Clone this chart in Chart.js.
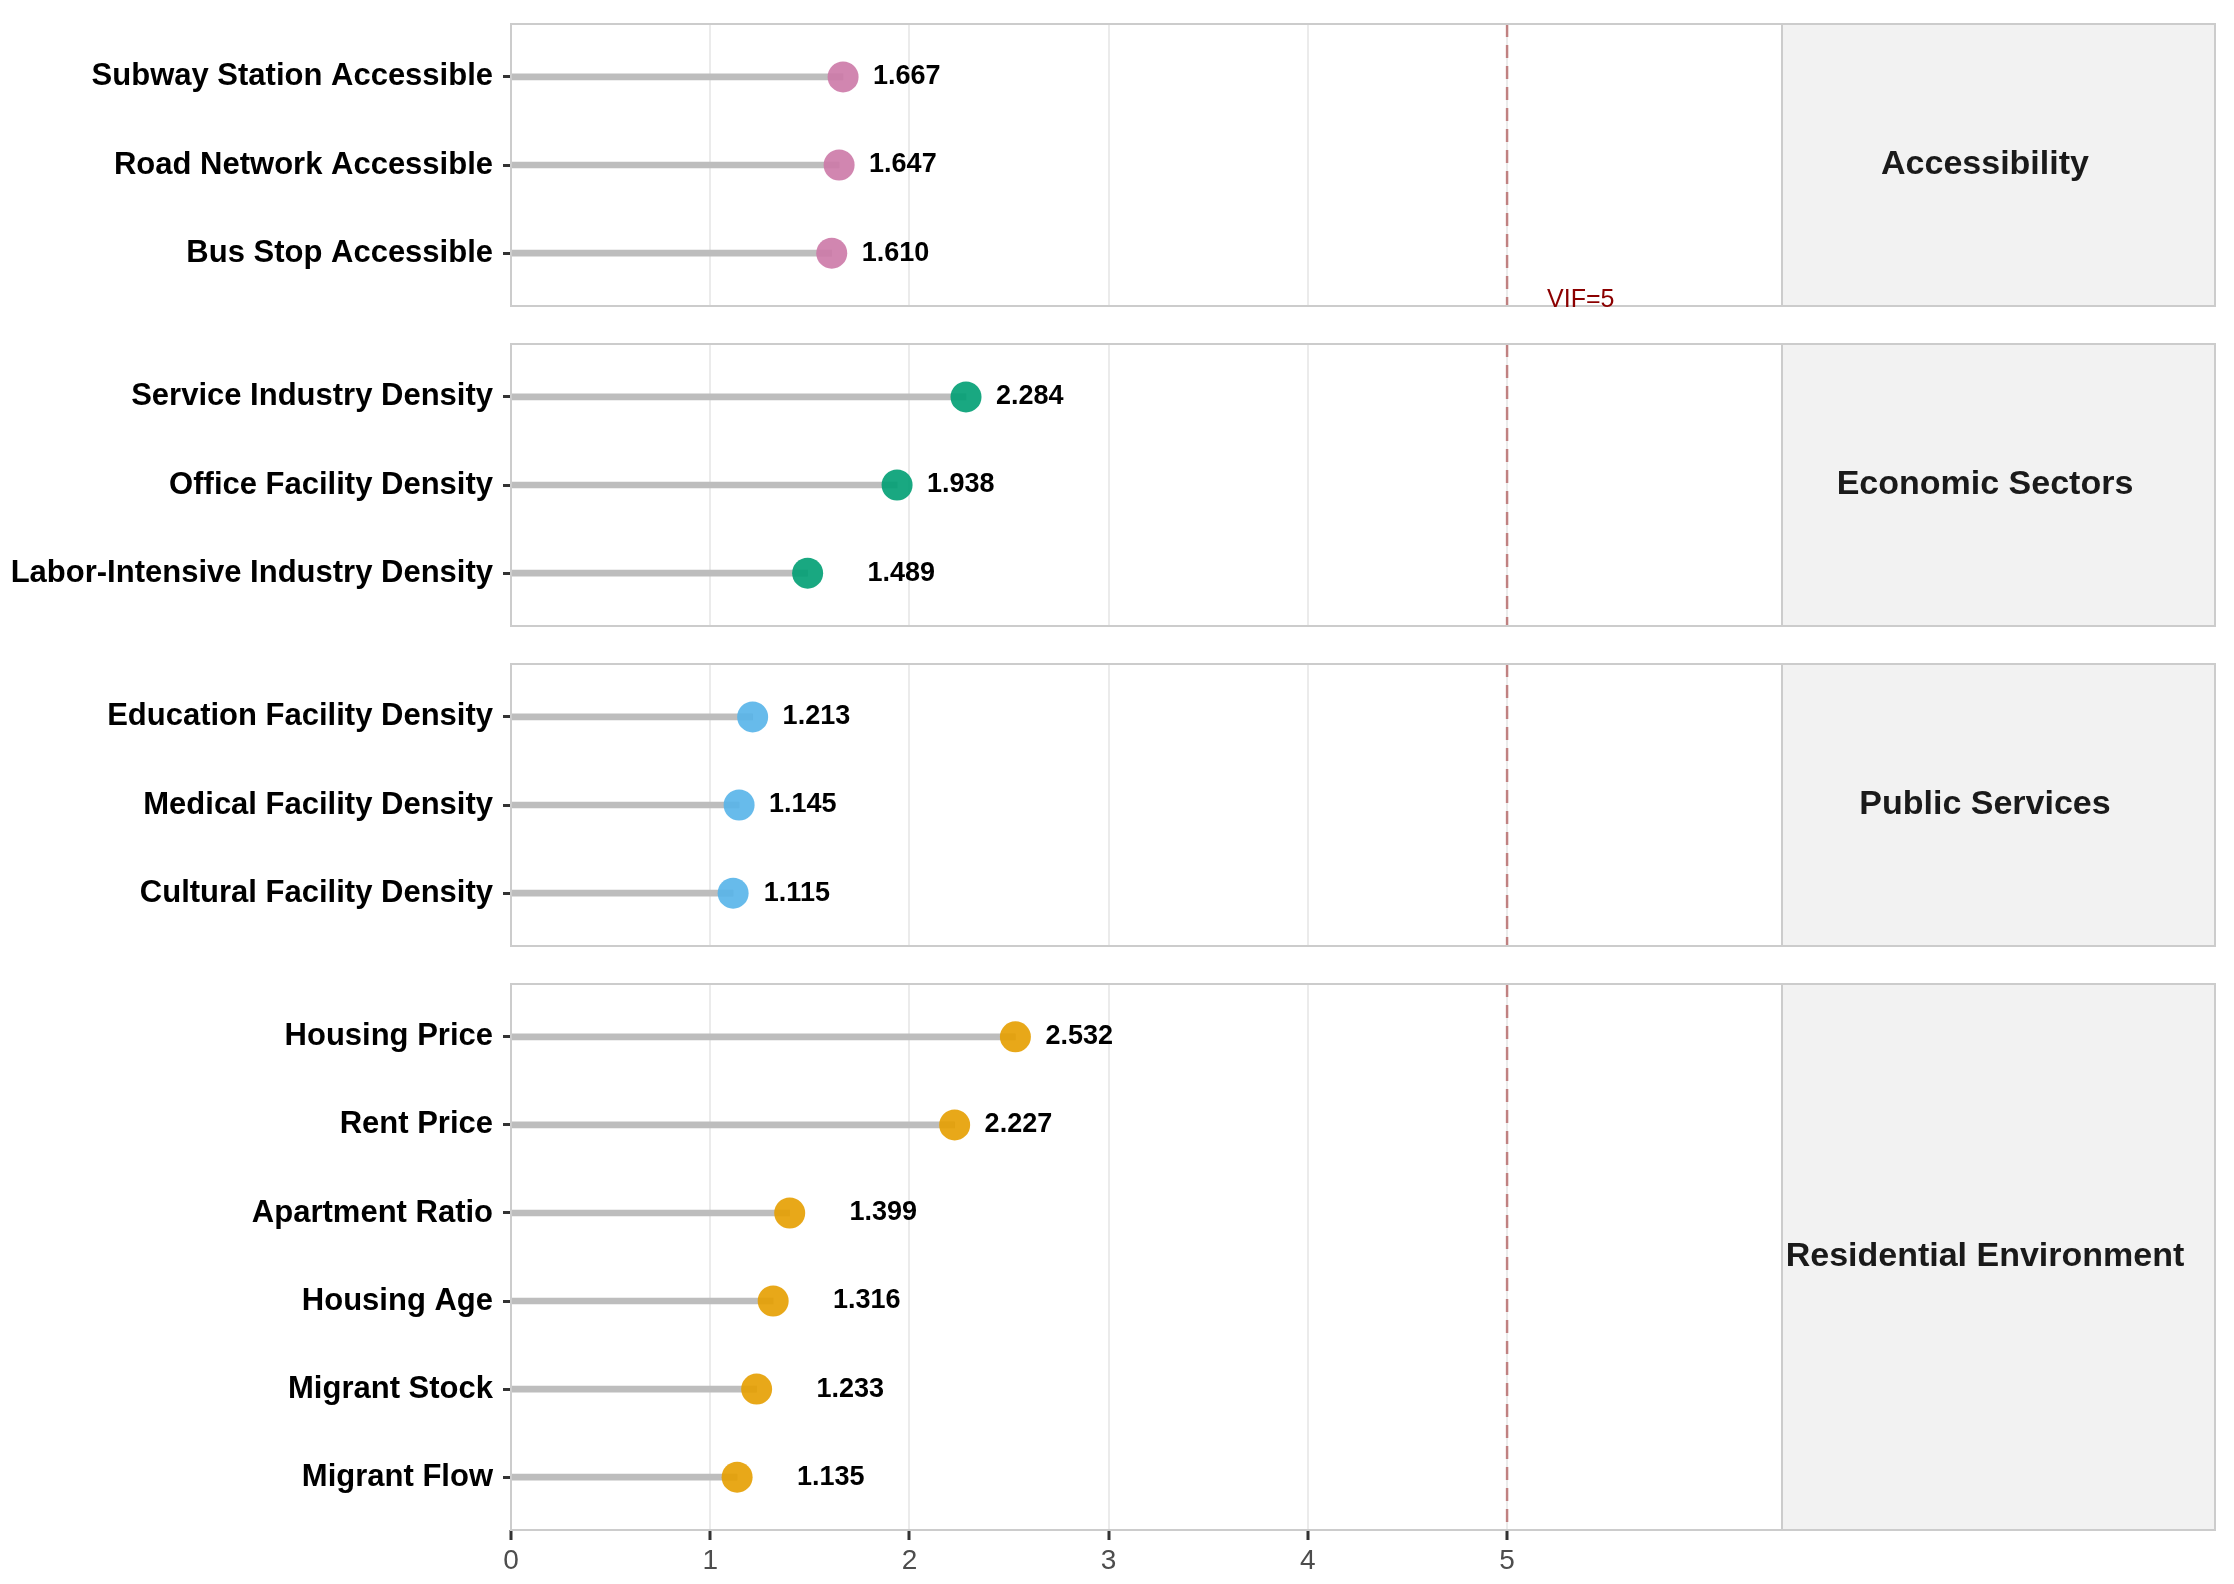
<!DOCTYPE html>
<html>
<head>
<meta charset="utf-8">
<script src="https://cdn.jsdelivr.net/npm/chart.js@4.4.1/dist/chart.umd.min.js"></script>
<style>
  body { margin: 0; background: #fff; width: 2234px; height: 1584px; position: relative; overflow: hidden; }
  canvas { position: absolute; left: 0; }
</style>
</head>
<body>
<canvas id="c0"></canvas>
<canvas id="c1"></canvas>
<canvas id="c2"></canvas>
<canvas id="c3"></canvas>
<script>
// data
const groups = ["Accessibility", "Economic Sectors", "Public Services", "Residential Environment"];
const accessLabels = ["Subway Station Accessible", "Road Network Accessible", "Bus Stop Accessible"];
const accessVif = [1.667, 1.647, 1.610];
const economicLabels = ["Service Industry Density", "Office Facility Density", "Labor-Intensive Industry Density"];
const economicVif = [2.284, 1.938, 1.489];
const publicLabels = ["Education Facility Density", "Medical Facility Density", "Cultural Facility Density"];
const publicVif = [1.213, 1.145, 1.115];
const residentialLabels = ["Housing Price", "Rent Price", "Apartment Ratio", "Housing Age", "Migrant Stock", "Migrant Flow"];
const residentialVif = [2.532, 2.227, 1.399, 1.316, 1.233, 1.135];
const groupColors = ["#CC79A7", "#009E73", "#56B4E9", "#E69F00"];
const xTicks = [0, 1, 2, 3, 4, 5];
const vifThreshold = 5;
const xMax = 6.38;

const FONT = '"Liberation Sans", Arial, sans-serif';
const W = 2234;
const PLOT_LEFT = 511, PLOT_RIGHT = 1782, STRIP_W = 433;
const UNIT = 88, GAP = 38.5, TOP0 = 24, PAD = 4, XAXIS_H = 50;

function hexA(hex, a) {
  const n = parseInt(hex.slice(1), 16);
  return `rgba(${n >> 16},${(n >> 8) & 255},${n & 255},${a})`;
}

// how far the value text sits right of its point (x units)
function labelNudge(group, v) {
  return (v < 1.5 && group !== "Public Services") ? 0.47 : 0.32;
}

const panelDecor = {
  id: 'panelDecor',
  afterDraw(chart) {
    const { ctx, chartArea: a, scales } = chart;
    const o = chart.options.plugins.panelDecor;
    ctx.save();
    // panel border
    ctx.strokeStyle = '#CCCCCC';
    ctx.lineWidth = 2;
    ctx.strokeRect(a.left, a.top, a.right - a.left, a.bottom - a.top);
    // facet strip
    ctx.fillStyle = '#F2F2F2';
    ctx.fillRect(a.right, a.top, STRIP_W, a.bottom - a.top);
    ctx.strokeRect(a.right, a.top, STRIP_W, a.bottom - a.top);
    ctx.fillStyle = '#1A1A1A';
    ctx.font = `bold 34px ${FONT}`;
    ctx.textAlign = 'center';
    ctx.textBaseline = 'middle';
    ctx.fillText(o.group, a.right + 203, (a.top + a.bottom) / 2);
    // value labels
    ctx.fillStyle = '#000';
    ctx.font = `bold 27px ${FONT}`;
    o.values.forEach((v, i) => {
      const x = scales.x.getPixelForValue(v + labelNudge(o.group, v));
      const y = scales.y.getPixelForValue(i);
      ctx.fillText(v.toFixed(3), x, y);
    });
    // threshold label
    if (o.showVif) {
      ctx.fillStyle = '#8B0000';
      ctx.font = `25px ${FONT}`;
      ctx.textBaseline = 'alphabetic';
      ctx.fillText('VIF=5', scales.x.getPixelForValue(5.37), a.bottom + 1);
    }
    ctx.restore();
  }
};

function makePanel(idx, labels, vals, top, showX) {
  const n = labels.length;
  const h = UNIT * (n + 0.2);
  const canvas = document.getElementById('c' + idx);
  const ch = h + PAD + (showX ? XAXIS_H : PAD);
  canvas.width = W;
  canvas.height = Math.round(ch);
  canvas.style.top = (top - PAD) + 'px';
  const color = groupColors[idx];

  new Chart(canvas, {
    type: 'bar',
    data: {
      datasets: [{
        type: 'line',
        data: [{ x: vifThreshold, y: -0.6 }, { x: vifThreshold, y: n - 0.4 }],
        borderColor: 'rgba(139,0,0,0.45)',
        borderWidth: 2.5,
        borderDash: [13, 8],
        pointRadius: 0,
        fill: false,
        order: 3
      }, {
        type: 'bar',
        data: vals.map((v, i) => ({ x: v, y: i })),
        backgroundColor: '#BDBDBD',
        barThickness: 6,
        borderWidth: 0,
        order: 2
      }, {
        type: 'scatter',
        data: vals.map((v, i) => ({ x: v, y: i })),
        backgroundColor: hexA(color, 0.9),
        borderWidth: 0,
        pointRadius: 15.5,
        order: 1
      }]
    },
    options: {
      responsive: false,
      animation: false,
      events: [],
      indexAxis: 'y',
      devicePixelRatio: 1,
      layout: { autoPadding: false, padding: { left: 0, right: W - PLOT_RIGHT, top: PAD, bottom: 0 } },
      plugins: {
        legend: { display: false },
        tooltip: { enabled: false },
        panelDecor: { group: groups[idx], values: vals, showVif: idx === 0 }
      },
      scales: {
        x: {
          type: 'linear', min: 0, max: xMax, position: 'bottom',
          afterBuildTicks: s => { s.ticks = xTicks.map(v => ({ value: v })); },
          afterFit: s => { s.height = showX ? XAXIS_H : PAD; s.paddingLeft = 0; s.paddingRight = 0; },
          grid: { color: '#EBEBEB', lineWidth: 2, offset: false, drawTicks: showX, tickLength: 10, tickColor: '#333333', tickWidth: 3 },
          border: { display: false },
          ticks: { display: showX, color: '#4D4D4D', font: { size: 28, family: FONT }, padding: 4, maxRotation: 0, autoSkip: false }
        },
        y: {
          type: 'linear', min: -0.6, max: n - 0.4, reverse: true, offset: false,
          afterBuildTicks: s => { s.ticks = labels.map((_, i) => ({ value: i })); },
          afterFit: s => { s.width = PLOT_LEFT; s.paddingTop = 0; s.paddingBottom = 0; },
          grid: { offset: false, drawOnChartArea: false, drawTicks: true, tickLength: 8, tickColor: '#333333', tickWidth: 3 },
          border: { display: false },
          ticks: { callback: (v, i) => labels[i], color: '#000', font: { size: 31, weight: 'bold', family: FONT }, padding: 10, autoSkip: false }
        }
      }
    },
    plugins: [panelDecor]
  });
  return top + h + GAP;
}

let y = TOP0;
y = makePanel(0, accessLabels, accessVif, y, false);
y = makePanel(1, economicLabels, economicVif, y, false);
y = makePanel(2, publicLabels, publicVif, y, false);
makePanel(3, residentialLabels, residentialVif, y, true);
</script>
</body>
</html>
